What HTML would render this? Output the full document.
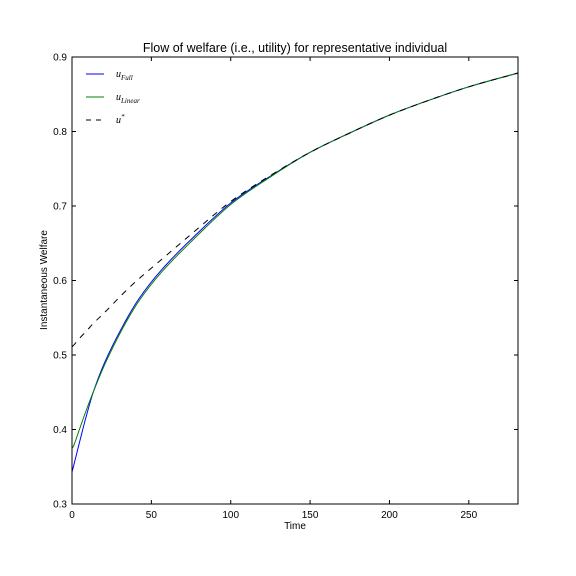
<!DOCTYPE html>
<html><head><meta charset="utf-8"><style>
body{margin:0;background:#fff;}
svg{display:block;font-family:"Liberation Sans",sans-serif;}
</style></head><body>
<svg id="c" width="576" height="576">
<rect width="576" height="576" fill="#fff"/>
</svg>
<script>
const tPts=[0,1,5,9,13.7,21,31.5,42,56.3,75,100,125,150,175,200,225,250,281];
const uFull=[0.343,0.351,0.385,0.418,0.452,0.492,0.537,0.575,0.614,0.655,0.704,0.740,0.772,0.798,0.822,0.842,0.860,0.8785];
const uLinear=[0.375,0.378,0.402,0.426,0.452,0.489,0.534,0.572,0.611,0.652,0.702,0.739,0.772,0.798,0.822,0.842,0.860,0.8785];
const uStar=[0.511,0.513,0.523,0.532,0.543,0.558,0.581,0.602,0.628,0.662,0.706,0.741,0.772,0.798,0.822,0.842,0.860,0.8785];
const xTicks=[0,50,100,150,200,250];
const yTicks=[0.3,0.4,0.5,0.6,0.7,0.8,0.9];
const L=72,R=518,T=57,B=504,XMAX=281;
const X=v=>L+v/XMAX*(R-L), Y=v=>B-(v-0.3)/0.6*(B-T);
const svg=document.getElementById('c'),NS='http://www.w3.org/2000/svg';
function el(tag,attrs,txt){const e=document.createElementNS(NS,tag);for(const k in attrs)e.setAttribute(k,attrs[k]);if(txt!==undefined)e.textContent=txt;svg.appendChild(e);return e;}
function path(xs,ys){const p=xs.map((x,i)=>[X(x),Y(ys[i])]);let d='M'+p[0][0]+','+p[0][1];
const n=p.length,m=[];
for(let i=0;i<n;i++){const a=p[Math.max(i-1,0)],b=p[Math.min(i+1,n-1)];m.push((b[1]-a[1])/(b[0]-a[0]));}
for(let i=0;i<n-1;i++){const h=p[i+1][0]-p[i][0];
d+=' C'+(p[i][0]+h/3)+','+(p[i][1]+m[i]*h/3)+' '+(p[i+1][0]-h/3)+','+(p[i+1][1]-m[i+1]*h/3)+' '+p[i+1][0]+','+p[i+1][1];}return d;}
const s1=el('path',{d:path(tPts,uFull),fill:'none',stroke:'#0000ff','stroke-width':1});


const s2=el('path',{d:path(tPts,uLinear),fill:'none',stroke:'#008000','stroke-width':1});


const s3=el('path',{d:path(tPts,uStar),fill:'none',stroke:'#000','stroke-width':1,'stroke-dasharray':'6,6'});


const fr=el('rect',{x:L,y:T,width:R-L,height:B-T,fill:'none',stroke:'#000','stroke-width':1});


xTicks.forEach(v=>{const x=X(v);el('line',{x1:x,x2:x,y1:B,y2:B-4,stroke:'#000'});el('line',{x1:x,x2:x,y1:T,y2:T+4,stroke:'#000'});
const t=el('text',{x:x,y:B+14,'font-size':10,'text-anchor':'middle'},String(v));

});
yTicks.forEach(v=>{const y=Y(v);el('line',{x1:L,x2:L+4,y1:y,y2:y,stroke:'#000'});el('line',{x1:R,x2:R-4,y1:y,y2:y,stroke:'#000'});
const t=el('text',{x:L-5,y:y+3.5,'font-size':10,'text-anchor':'end'},v.toFixed(1));

});
const ti=el('text',{x:295,y:52,'font-size':12.5,'text-anchor':'middle'},'Flow of welfare (i.e., utility) for representative individual');


const xl=el('text',{x:295,y:529,'font-size':10,'text-anchor':'middle'},'Time');


const yl=el('text',{x:47,y:280,'font-size':10,'text-anchor':'middle',transform:'rotate(-90 47 280)'},'Instantaneous Welfare');


const leg=[['#0000ff','',74,'Full'],['#008000','',97,'Linear'],['#000','5,5',120,'*']];
leg.forEach(l=>{el('line',{x1:86,x2:104,y1:l[2],y2:l[2],stroke:l[0],'stroke-dasharray':l[1]||'none'});
const t=el('text',{x:116,y:l[2]+3,'font-size':10,'font-style':'italic','font-family':'Liberation Serif,serif'});


t.textContent='u';const s=document.createElementNS(NS,'tspan');
if(l[3]==='*'){s.setAttribute('dy','-4');}else{s.setAttribute('dy','3');}
s.setAttribute('font-size','7');s.textContent=l[3];t.appendChild(s);});
</script>
</body></html>
